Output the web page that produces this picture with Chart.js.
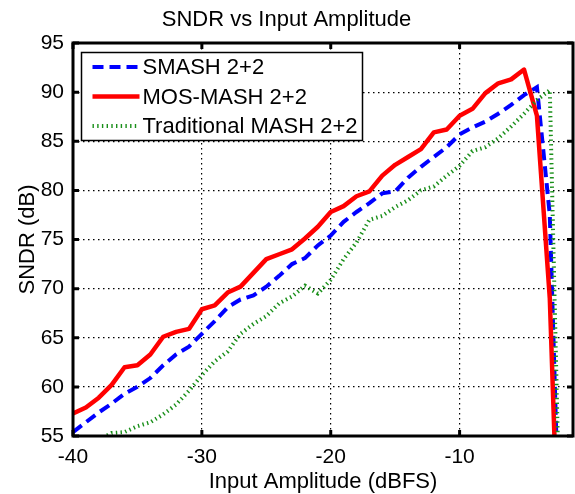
<!DOCTYPE html>
<html>
<head>
<meta charset="utf-8">
<title>SNDR vs Input Amplitude</title>
<script src="https://cdn.jsdelivr.net/npm/chart.js@4.4.0/dist/chart.umd.min.js"></script>
<style>
  html, body { margin: 0; padding: 0; background: #fff; }
  canvas { display: block; }
</style>
</head>
<body>
<canvas id="sndrChart" width="575" height="494"></canvas>
<script>
// input amplitude in dBFS, 1 dB steps
const inputAmp = [-40, -39, -38, -37, -36, -35, -34, -33, -32, -31,
                  -30, -29, -28, -27, -26, -25, -24, -23, -22, -21,
                  -20, -19, -18, -17, -16, -15, -14, -13, -12, -11,
                  -10, -9, -8, -7, -6, -5, -4, -3, -2];

const smashSndr = [55.4, 56.4, 57.4, 58.3, 59.3, 60.0, 60.9, 62.2, 63.3, 64.1,
                   65.4, 66.7, 68.1, 68.9, 69.3, 70.2, 71.3, 72.5, 73.1, 74.4,
                   75.4, 76.8, 77.8, 78.7, 79.7, 79.9, 81.3, 82.4, 83.4, 84.4,
                   85.7, 86.4, 87.0, 87.8, 88.7, 89.7, 90.5, 77.5, 33.0];

const mosSndr = [57.3, 57.9, 58.9, 60.2, 62.0, 62.2, 63.3, 65.1, 65.6, 65.9,
                 67.9, 68.3, 69.6, 70.2, 71.6, 73.0, 73.5, 74.0, 75.1, 76.3,
                 77.8, 78.4, 79.4, 79.9, 81.5, 82.6, 83.4, 84.2, 85.9, 86.2,
                 87.6, 88.3, 89.9, 90.9, 91.3, 92.3, 87.6, 69.0, 30.0];

// traditional MASH only rises above 55 dB from about -37 dBFS
const tradAmp = [-38, -37, -36, -35, -34, -33, -32, -31,
                 -30, -29, -28, -27, -26, -25, -24, -23, -22, -21,
                 -20, -19, -18, -17, -16, -15, -14, -13, -12, -11,
                 -10, -9, -8, -7, -6, -5, -4, -3, -2];
const tradSndr = [54.6, 55.3, 55.4, 56.0, 56.4, 57.2, 58.2, 59.6,
                  61.2, 62.6, 63.6, 65.4, 66.4, 67.2, 68.5, 69.2, 70.3, 69.5,
                  70.9, 73.0, 74.7, 77.0, 77.4, 78.3, 79.0, 80.0, 80.4, 81.5,
                  82.5, 84.0, 84.4, 85.3, 86.5, 87.8, 89.2, 90.2, 33.0];

const seriesNames = ['SMASH 2+2', 'MOS-MASH 2+2', 'Traditional MASH 2+2'];
const xTicks = [-40, -30, -20, -10];
const yTicks = [55, 60, 65, 70, 75, 80, 85, 90, 95];

const FONT = "'Liberation Sans', Arial, Helvetica, sans-serif";
Chart.defaults.font.family = FONT;
Chart.defaults.color = '#000';

function toPoints(xs, ys) {
  return xs.map((x, i) => ({ x: x, y: ys[i] }));
}

// matlab style box, inward ticks and the legend inside the axes
const matlabFrame = {
  id: 'matlabFrame',
  afterDatasetsDraw(chart) {
    const ctx = chart.ctx;
    const a = chart.chartArea;
    const xs = chart.scales.x;
    const ys = chart.scales.y;
    ctx.save();
    ctx.strokeStyle = '#000';
    ctx.lineWidth = 3;
    xTicks.forEach(v => {
      const px = xs.getPixelForValue(v);
      ctx.beginPath();
      ctx.moveTo(px, a.bottom); ctx.lineTo(px, a.bottom - 6);
      ctx.moveTo(px, a.top); ctx.lineTo(px, a.top + 6);
      ctx.stroke();
    });
    yTicks.forEach(v => {
      const py = ys.getPixelForValue(v);
      ctx.beginPath();
      ctx.moveTo(a.left, py); ctx.lineTo(a.left + 6, py);
      ctx.moveTo(a.right, py); ctx.lineTo(a.right - 6, py);
      ctx.stroke();
    });
    ctx.strokeRect(a.left, a.top, a.right - a.left, a.bottom - a.top);

    // legend
    const bx = a.left + 8.5, by = a.top + 9.5, bw = 281, bh = 88;
    ctx.fillStyle = '#fff';
    ctx.fillRect(bx, by, bw, bh);
    ctx.lineWidth = 1.5;
    ctx.strokeRect(bx, by, bw, bh);
    ctx.font = '22px ' + FONT;
    ctx.textBaseline = 'middle';
    ctx.textAlign = 'left';
    chart.data.datasets.forEach((ds, i) => {
      const ry = by + 14.5 + i * 29.5;
      ctx.save();
      ctx.strokeStyle = ds.borderColor;
      ctx.lineWidth = ds.borderWidth;
      ctx.setLineDash(ds.borderDash || []);
      ctx.beginPath();
      ctx.moveTo(bx + 11, ry);
      ctx.lineTo(bx + 58, ry);
      ctx.stroke();
      ctx.restore();
      ctx.fillStyle = '#000';
      ctx.fillText(ds.label, bx + 61, ry + 1);
    });
    ctx.restore();
  }
};

new Chart(document.getElementById('sndrChart'), {
  type: 'scatter',
  data: {
    datasets: [
      {
        label: seriesNames[0],
        data: toPoints(inputAmp, smashSndr),
        showLine: true,
        borderColor: '#0000ff',
        borderWidth: 4,
        borderDash: [11, 6],
        pointRadius: 0,
        order: 3
      },
      {
        label: seriesNames[1],
        data: toPoints(inputAmp, mosSndr),
        showLine: true,
        borderColor: '#ff0000',
        borderWidth: 4.5,
        borderJoinStyle: 'round',
        pointRadius: 0,
        order: 2
      },
      {
        label: seriesNames[2],
        data: toPoints(tradAmp, tradSndr),
        showLine: true,
        borderColor: '#1a8f1a',
        borderWidth: 4,
        borderDash: [1.4, 3.3],
        pointRadius: 0,
        order: 1
      }
    ]
  },
  options: {
    responsive: false,
    animation: false,
    layout: { padding: { left: 0, right: 2, top: 0, bottom: 0 } },
    plugins: {
      legend: { display: false },
      tooltip: { enabled: false },
      title: {
        display: true,
        text: 'SNDR vs Input Amplitude',
        color: '#000',
        font: { size: 22, weight: 'normal', lineHeight: 1.2 },
        padding: { top: 6.8, bottom: 9.8 }
      }
    },
    scales: {
      x: {
        type: 'linear',
        min: -40,
        max: -1.2,
        afterBuildTicks: s => { s.ticks = xTicks.map(v => ({ value: v })); },
        afterFit: s => { s.height = 58; },
        ticks: { font: { size: 21 }, color: '#000', padding: 8.5, maxRotation: 0 },
        grid: { color: '#000', lineWidth: 1.2, drawTicks: false },
        border: { display: false, dash: [1.5, 3.5] },
        title: {
          display: true,
          text: 'Input Amplitude (dBFS)',
          color: '#000',
          font: { size: 22, lineHeight: 1.1 },
          padding: { top: 0, bottom: 0 }
        }
      },
      y: {
        type: 'linear',
        min: 55,
        max: 95,
        afterBuildTicks: s => { s.ticks = yTicks.map(v => ({ value: v })); },
        afterFit: s => { s.width = 73; },
        ticks: { font: { size: 21 }, color: '#000', padding: 9 },
        grid: { color: '#000', lineWidth: 1.2, drawTicks: false },
        border: { display: false, dash: [1.5, 3.5] },
        title: {
          display: true,
          text: 'SNDR (dB)',
          color: '#000',
          font: { size: 22, lineHeight: 1.2 },
          padding: { top: 14.5, bottom: 0 }
        }
      }
    }
  },
  plugins: [matlabFrame]
});
</script>
</body>
</html>
